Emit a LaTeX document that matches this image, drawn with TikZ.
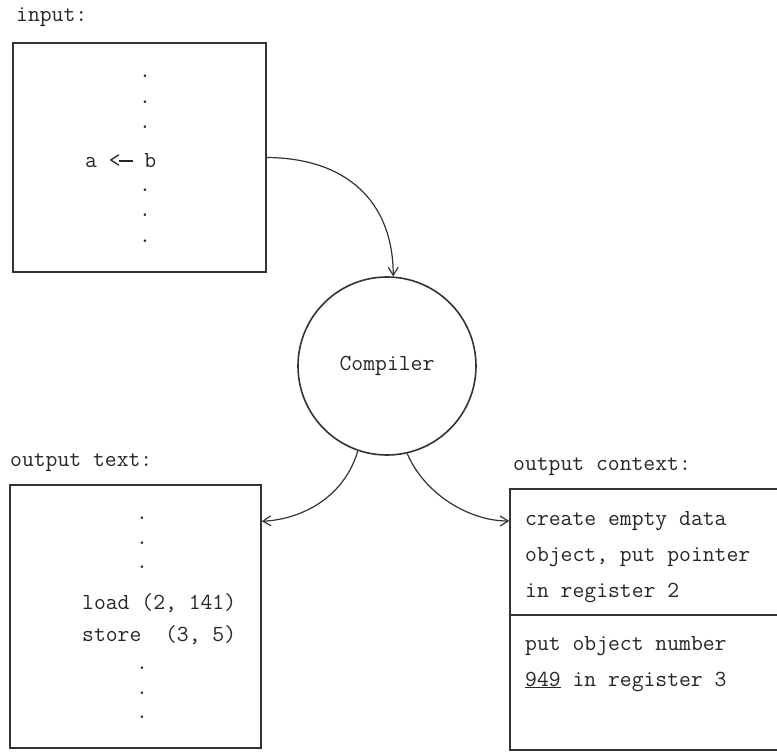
\documentclass[tikz,border=0pt]{standalone}
\usepackage{fontspec}
\usetikzlibrary{arrows.meta}
\begin{document}
\begin{tikzpicture}[x=1pt,y=-1pt,
  box/.style={draw=black!80, line width=1.6pt, inner sep=0pt},
  tt/.style={font=\fontsize{23}{28}\selectfont\ttfamily, inner sep=0pt, text=black!85},
  link/.style={draw=black!80, line width=1.2pt, -{Straight Barb[length=8pt,width=10pt]}}]
\useasboundingbox (0,0) rectangle (777,752);
\clip (0,0) rectangle (777,752);

% captions
\node[tt, anchor=base west] (lin) at (16,22) {input:};
\node[tt, anchor=base west] (lot) at (10,466) {output text:};
\node[tt, anchor=base west] (loc) at (513,470) {output context:};

% input program
\node[box, minimum width=253pt, minimum height=229pt] (in) at (139.5,157.5) {};
\node[tt] (id1) at (145,76) {.};
\node[tt] (id2) at (145,102) {.};
\node[tt] (id3) at (145,127) {.};
\node[tt, anchor=base west] (assign) at (85,167) {a <\rlap{\kern-2pt\rule[5.5pt]{14pt}{1.3pt}}\phantom{-} b};
\node[tt] (id4) at (145,190) {.};
\node[tt] (id5) at (145,215) {.};
\node[tt] (id6) at (145,241) {.};

% compiler
\node[box, circle, minimum size=178pt, tt] (comp) at (387,366) {Compiler};

% output text
\node[box, minimum width=251pt, minimum height=263pt] (ot) at (135.5,616.5) {};
\node[tt] (od1) at (142,518) {.};
\node[tt] (od2) at (142,543) {.};
\node[tt] (od3) at (142,567) {.};
\node[tt, anchor=base west] (load) at (82,609) {load (2, 141)};
\node[tt, anchor=base west] (store) at (82,641) {store\ \ (3, 5)};
\node[tt] (od4) at (142,668) {.};
\node[tt] (od5) at (142,693) {.};
\node[tt] (od6) at (142,717) {.};

% output context
\node[box, minimum width=290pt, minimum height=126pt] (c1) at (655,552) {};
\node[box, minimum width=290pt, minimum height=135pt] (c2) at (655,682.5) {};
\node[tt, anchor=base west] (c1a) at (525,525) {create empty data};
\node[tt, anchor=base west] (c1b) at (525,561) {object, put pointer};
\node[tt, anchor=base west] (c1c) at (525,597) {in register 2};
\node[tt, anchor=base west] (c2a) at (525,650) {put object number};
\node[tt, anchor=base west] (c2b) at (525,686) {\underline{949} in register 3};

% connectors
\draw[link] (in.east) .. controls (345,158) and (393,200) .. (comp.86);
\draw[link] (comp.251) .. controls (345,495) and (305,519) .. (ot.37.8);
\draw[link] (comp.283) .. controls (425,495) and (470,521) .. (c1.168);
\end{tikzpicture}
\end{document}
